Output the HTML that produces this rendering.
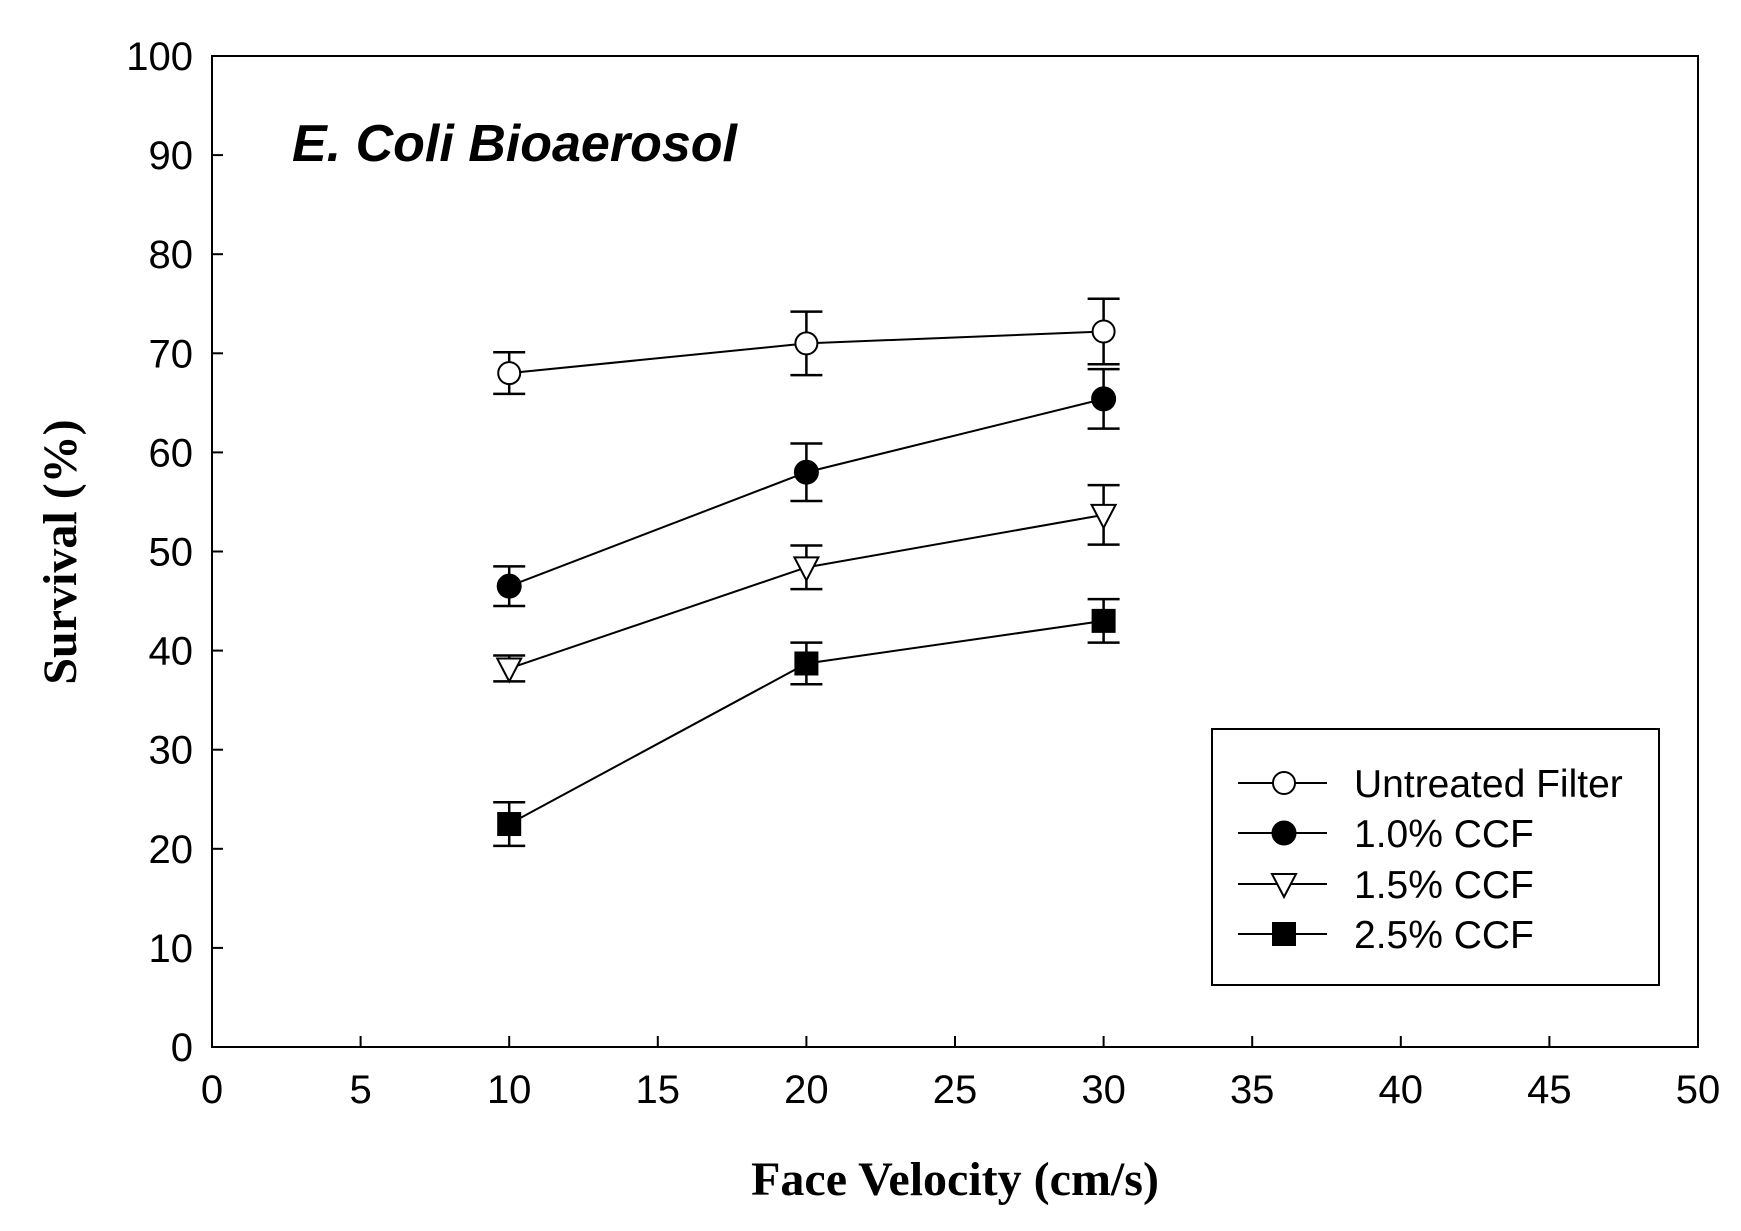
<!DOCTYPE html>
<html><head><meta charset="utf-8"><style>
html,body{margin:0;padding:0;background:#fff;}
svg{display:block;}
</style></head><body>
<svg id="chart" width="1741" height="1231" viewBox="0 0 1741 1231" xmlns="http://www.w3.org/2000/svg">
<rect x="0" y="0" width="1741" height="1231" fill="#fff"/>
<g id="axes"></g>
<g id="series"></g>
<text x="292" y="161" font-family="Liberation Sans, sans-serif" font-style="italic" font-weight="bold" font-size="52" fill="#000">E. Coli Bioaerosol</text>
<text transform="translate(76,552) rotate(-90)" text-anchor="middle" font-family="Liberation Serif, serif" font-weight="bold" font-size="48" fill="#000">Survival (%)</text>
<text x="955" y="1195" text-anchor="middle" font-family="Liberation Serif, serif" font-weight="bold" font-size="48" fill="#000">Face Velocity (cm/s)</text>
<g id="legend">
<rect x="1212" y="729" width="447" height="256" fill="#fff" stroke="#000" stroke-width="2"/>
</g>
</svg>
<script>
const categories = [10, 20, 30];
const seriesNames = ["Untreated Filter", "1.0% CCF", "1.5% CCF", "2.5% CCF"];
const untreated = [68, 71, 72.2];
const ccf10 = [46.5, 58, 65.4];
const ccf15 = [38.2, 48.4, 53.7];
const ccf25 = [22.5, 38.7, 43];
const errUntreated = [2.1, 3.2, 3.3];
const errCcf10 = [2.0, 2.9, 3.0];
const errCcf15 = [1.3, 2.2, 3.0];
const errCcf25 = [2.2, 2.1, 2.2];
const xTicks = [0,5,10,15,20,25,30,35,40,45,50];
const yTicks = [0,10,20,30,40,50,60,70,80,90,100];

const NS = "http://www.w3.org/2000/svg";
const X0 = 212, X1 = 1698, Y0 = 1047, Y1 = 56;
function xs(v){ return X0 + (v/50)*(X1-X0); }
function ys(v){ return Y0 - (v/100)*(Y0-Y1); }
function mk(tag, attrs, parent){
  const e = document.createElementNS(NS, tag);
  for (const k in attrs) e.setAttribute(k, attrs[k]);
  parent.appendChild(e); return e;
}
const axes = document.getElementById('axes');
const frame = mk('rect', {x:X0, y:Y1, width:X1-X0, height:Y0-Y1, fill:'none', stroke:'#000', 'stroke-width':2}, axes);


xTicks.forEach(t => {
  const l = mk('line', {x1:xs(t), x2:xs(t), y1:Y0, y2:Y0-11, stroke:'#000', 'stroke-width':2}, axes);
  
  
  const tx = mk('text', {x:xs(t), y:1103, 'text-anchor':'middle', 'font-family':'Liberation Sans, sans-serif', 'font-size':40, fill:'#000'}, axes);
  tx.textContent = t;
  
  
});
yTicks.forEach(t => {
  const l = mk('line', {x1:X0, x2:X0+11, y1:ys(t), y2:ys(t), stroke:'#000', 'stroke-width':2}, axes);
  
  
  const tx = mk('text', {x:193, y:ys(t)+14, 'text-anchor':'end', 'font-family':'Liberation Sans, sans-serif', 'font-size':40, fill:'#000'}, axes);
  tx.textContent = t;
  
  
});

function marker(type, cx, cy, parent){
  let e;
  if (type === 'open-circle') e = mk('circle', {cx, cy, r:11, fill:'#fff', stroke:'#000', 'stroke-width':2}, parent);
  else if (type === 'filled-circle') e = mk('circle', {cx, cy, r:12, fill:'#000', stroke:'#000', 'stroke-width':1}, parent);
  else if (type === 'triangle') e = mk('polygon', {points:`${cx-12},${cy-10} ${cx+12},${cy-10} ${cx},${cy+13}`, fill:'#fff', stroke:'#000', 'stroke-width':2}, parent);
  else e = mk('rect', {x:cx-12, y:cy-12, width:24, height:24, fill:'#000'}, parent);
  return e;
}

const seriesVals = [untreated, ccf10, ccf15, ccf25];
const seriesErr = [errUntreated, errCcf10, errCcf15, errCcf25];
const markerTypes = ['open-circle','filled-circle','triangle','square'];
const keys = ['untreated','ccf-1-0','ccf-1-5','ccf-2-5'];
const sg = document.getElementById('series');
seriesVals.forEach((vals, si) => {
  const g = mk('g', {}, sg);
  
  
  const pts = vals.map((v,i) => xs(categories[i]) + ',' + ys(v)).join(' ');
  const pl = mk('polyline', {points:pts, fill:'none', stroke:'#000', 'stroke-width':2}, g);
  
  
  vals.forEach((v,i) => {
    const x = xs(categories[i]), e = seriesErr[si][i];
    const eb = mk('path', {d:`M${x},${ys(v+e)}V${ys(v-e)}M${x-16},${ys(v+e)}H${x+16}M${x-16},${ys(v-e)}H${x+16}`, stroke:'#000', 'stroke-width':2.5, fill:'none'}, g);
    
    
    const m = marker(markerTypes[si], x, ys(v), g);
    
    
  });
});

const lg = document.getElementById('legend');
const rowY = [783, 833, 884, 934];
seriesNames.forEach((name, si) => {
  const y = rowY[si];
  const g = mk('g', {}, lg);
  
  
  mk('line', {x1:1238, x2:1327, y1:y, y2:y, stroke:'#000', 'stroke-width':2}, g);
  marker(markerTypes[si], 1284, y, g);
  const t = mk('text', {x:1354, y:y+14, 'font-family':'Liberation Sans, sans-serif', 'font-size':39, fill:'#000'}, g);
  t.textContent = name;
});
</script>
</body></html>
